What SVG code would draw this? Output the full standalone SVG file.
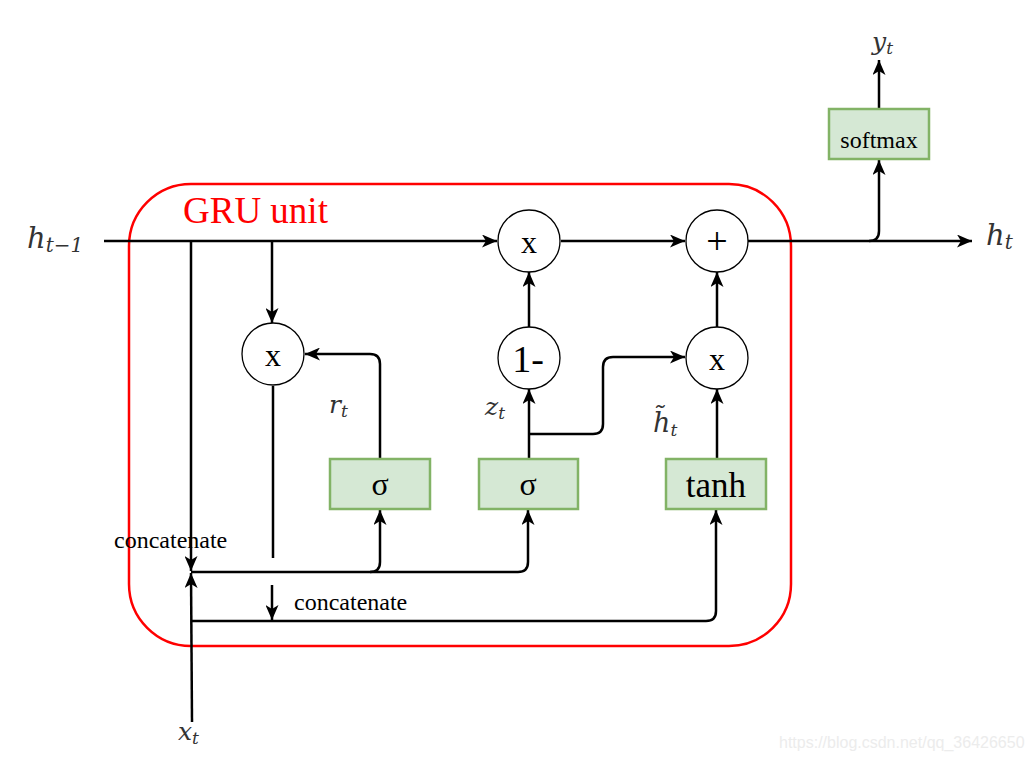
<svg xmlns="http://www.w3.org/2000/svg" width="1032" height="761" viewBox="0 0 1032 761">
<defs>
<marker id="arr" viewBox="0 0 15 13" refX="15" refY="6.5" markerWidth="15" markerHeight="13" markerUnits="userSpaceOnUse" orient="auto">
<path d="M0,0 L15,6.5 L0,13 L4,6.5 Z" fill="#000"/>
</marker>
<style>
.ln{fill:none;stroke:#000;stroke-width:2.5}
.ar{marker-end:url(#arr)}
.op{fill:#fff;stroke:#000;stroke-width:1.3}
.box{fill:#d5e8d4;stroke:#82b366;stroke-width:2.5}
.t{font-family:"Liberation Serif","Times New Roman",serif;fill:#000;text-anchor:middle}
.m{font-family:"DejaVu Serif","Liberation Serif",serif;font-style:italic;fill:#333}
.lbl{font-family:"Liberation Serif","Times New Roman",serif;fill:#000;font-size:24px}
</style>
</defs>
<rect width="1032" height="761" fill="#fff"/>
<g id="gru-unit">
<rect x="129" y="184" width="662" height="462" rx="62" ry="62" fill="none" stroke="#ff0000" stroke-width="2.5"/>
<text x="183" y="223" font-family="Liberation Serif, serif" font-size="37" fill="#ff0000">GRU unit</text>
</g>
<g id="connectors">
<path class="ln ar" d="M104,241 H497"/>
<path class="ln ar" d="M191,241 V571"/>
<path class="ln ar" d="M272,241 V323"/>
<path class="ln" d="M273,386 V558"/>
<path class="ln ar" d="M272,585 V620"/>
<path class="ln ar" d="M192,722 L191,573"/>
<path class="ln ar" d="M191,572 H518 Q528,572 528,562 V510"/>
<path class="ln ar" d="M370,572 Q380,572 380,562 V510"/>
<path class="ln ar" d="M191,621 H706 Q716,621 716,611 V510"/>
<path class="ln ar" d="M380,459 V364 Q380,354 370,354 H305"/>
<path class="ln ar" d="M529,459 V389"/>
<path class="ln ar" d="M529,434 H593 Q603,434 603,424 V367 Q603,357 613,357 H685"/>
<path class="ln ar" d="M529,327 V272"/>
<path class="ln ar" d="M561,241 H685"/>
<path class="ln ar" d="M717,327 V272"/>
<path class="ln ar" d="M717,459 V389"/>
<path class="ln ar" d="M748,241 H972"/>
<path class="ln ar" d="M869,241 Q879,241 879,231 V160"/>
<path class="ln ar" d="M879,109 V60"/>
</g>
<g id="mul-reset">
<circle class="op" cx="273" cy="354" r="31"/>
<text class="t" x="273" y="366" font-size="32">x</text>
</g>
<g id="mul-prev">
<circle class="op" cx="529" cy="241" r="31"/>
<text class="t" x="529" y="253" font-size="32">x</text>
</g>
<g id="one-minus">
<circle class="op" cx="529" cy="358" r="31"/>
<text class="t" x="528" y="372" font-size="38">1-</text>
</g>
<g id="plus">
<circle class="op" cx="717" cy="241" r="31"/>
<text class="t" x="717" y="254" font-size="38">+</text>
</g>
<g id="mul-cand">
<circle class="op" cx="717" cy="358" r="31"/>
<text class="t" x="717" y="370" font-size="32">x</text>
</g>
<g id="sigma-r">
<rect class="box" x="330" y="459" width="100" height="50"/>
<text class="t" x="380" y="495" font-size="32">σ</text>
</g>
<g id="sigma-z">
<rect class="box" x="479" y="459" width="99" height="50"/>
<text class="t" x="528" y="495" font-size="32">σ</text>
</g>
<g id="tanh">
<rect class="box" x="666" y="459" width="100" height="50"/>
<text class="t" x="716" y="497" font-size="35">tanh</text>
</g>
<g id="softmax">
<rect class="box" x="829" y="109" width="100" height="50"/>
<text class="t" x="879" y="148" font-size="24">softmax</text>
</g>
<g id="labels">
<text class="m" x="27" y="248" font-size="29">h<tspan font-size="20" dy="4">t−1</tspan></text>
<text class="m" x="986" y="245" font-size="29">h<tspan font-size="20" dy="4">t</tspan></text>
<text class="m" x="872" y="50" font-size="25">y<tspan font-size="17" dy="4">t</tspan></text>
<text class="m" x="178" y="740" font-size="25">x<tspan font-size="17" dy="4">t</tspan></text>
<text class="m" x="329" y="413" font-size="25">r<tspan font-size="17" dy="4">t</tspan></text>
<text class="m" x="485" y="415" font-size="25">z<tspan font-size="17" dy="4">t</tspan></text>
<text class="m" x="653" y="432" font-size="27">h&#771;<tspan font-size="17" dy="4">t</tspan></text>
<text class="lbl" x="114" y="548">concatenate</text>
<text class="lbl" x="294" y="610">concatenate</text>
<text x="779" y="748" font-family="Liberation Sans, Arial, sans-serif" font-size="16" fill="#ececec">https://blog.csdn.net/qq_36426650</text>
</g>
</svg>
